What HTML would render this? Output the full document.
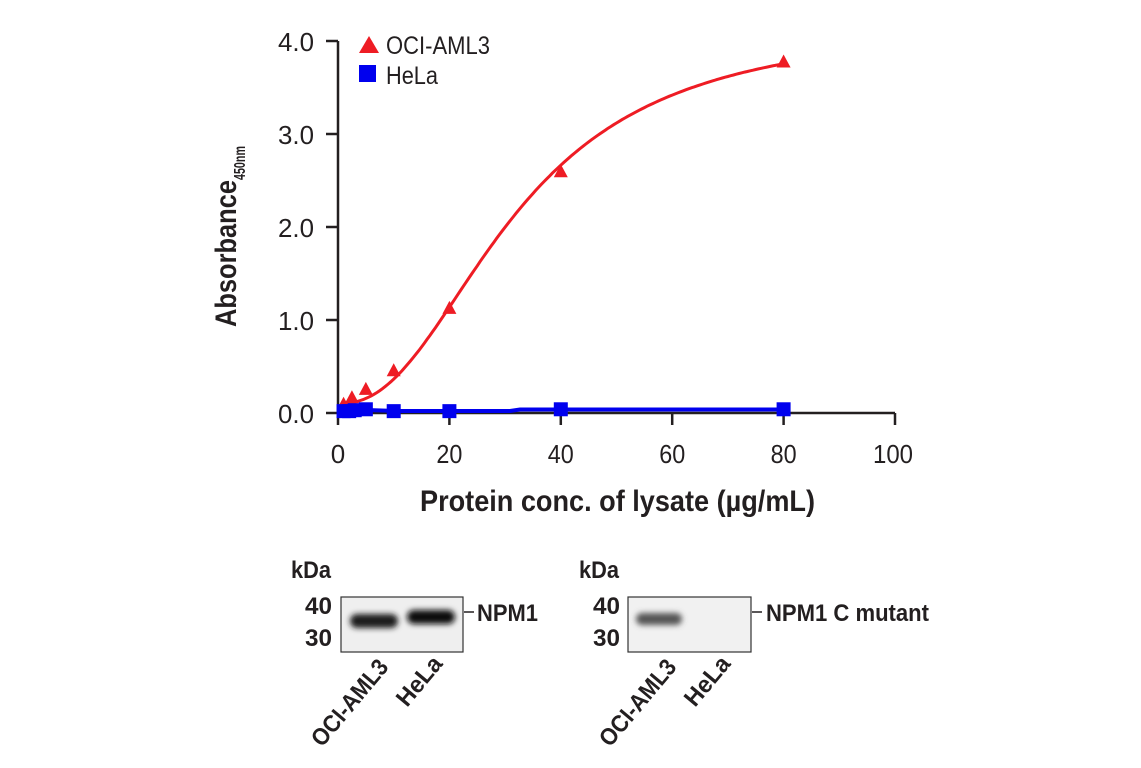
<!DOCTYPE html>
<html><head><meta charset="utf-8"><style>
html,body{margin:0;padding:0;background:#fff;width:1141px;height:768px;overflow:hidden}
svg{display:block}
text{font-family:"Liberation Sans Narrow","Liberation Sans",sans-serif;fill:#231f20}
</style></head><body>
<svg width="1141" height="768" viewBox="0 0 1141 768" xmlns="http://www.w3.org/2000/svg">
<defs>
<filter id="bl" x="-50%" y="-100%" width="200%" height="300%"><feGaussianBlur stdDeviation="3"/></filter>
</defs>
<g stroke="#231f20" stroke-width="2.5" fill="none">
<line x1="338" y1="41" x2="338" y2="413"/>
<line x1="338" y1="413" x2="895" y2="413"/>
<line x1="326" y1="41" x2="338" y2="41"/>
<line x1="326" y1="134" x2="338" y2="134"/>
<line x1="326" y1="227" x2="338" y2="227"/>
<line x1="326" y1="320" x2="338" y2="320"/>
<line x1="326" y1="413" x2="338" y2="413"/>
<line x1="338" y1="413" x2="338" y2="425"/>
<line x1="449.4" y1="413" x2="449.4" y2="425"/>
<line x1="560.8" y1="413" x2="560.8" y2="425"/>
<line x1="672.2" y1="413" x2="672.2" y2="425"/>
<line x1="783.6" y1="413" x2="783.6" y2="425"/>
<line x1="895" y1="413" x2="895" y2="425"/>
</g>
<g font-size="26" text-anchor="end">
<text x="314" y="51" textLength="36" lengthAdjust="spacingAndGlyphs">4.0</text><text x="314" y="144" textLength="36" lengthAdjust="spacingAndGlyphs">3.0</text><text x="314" y="237" textLength="36" lengthAdjust="spacingAndGlyphs">2.0</text><text x="314" y="330" textLength="36" lengthAdjust="spacingAndGlyphs">1.0</text><text x="314" y="423" textLength="36" lengthAdjust="spacingAndGlyphs">0.0</text>
</g>
<g font-size="26" text-anchor="middle">
<text x="338" y="463">0</text><text x="449.4" y="463" textLength="26" lengthAdjust="spacingAndGlyphs">20</text><text x="560.8" y="463" textLength="26" lengthAdjust="spacingAndGlyphs">40</text><text x="672.2" y="463" textLength="26" lengthAdjust="spacingAndGlyphs">60</text><text x="783.6" y="463" textLength="26" lengthAdjust="spacingAndGlyphs">80</text><text x="893" y="463" textLength="40" lengthAdjust="spacingAndGlyphs">100</text>
</g>
<text x="420" y="511" font-size="30" font-weight="bold" textLength="395" lengthAdjust="spacingAndGlyphs">Protein conc. of lysate (µg/mL)</text>
<text transform="translate(236,327) rotate(-90)" font-size="30" font-weight="bold"><tspan textLength="147" lengthAdjust="spacingAndGlyphs">Absorbance</tspan><tspan font-size="16" dy="9" textLength="34" lengthAdjust="spacingAndGlyphs">450nm</tspan></text>
<polygon points="359,53 369,36 379,53" fill="#ee1c24"/>
<text x="386" y="54" font-size="25" textLength="104" lengthAdjust="spacingAndGlyphs">OCI-AML3</text>
<rect x="359" y="65" width="17" height="17" fill="#0000ee"/>
<text x="386" y="84" font-size="25" textLength="52" lengthAdjust="spacingAndGlyphs">HeLa</text>
<path d="M343.6,411 L366,410 L400,411 L449.4,411 L510,411 L520,409.5 L560.8,409.5 L783.6,409.5" stroke="#0000ee" stroke-width="4" fill="none"/>
<path id="red" stroke="#ee1c24" stroke-width="3" fill="none"/>
<g id="pts"></g>
<rect x="341" y="597" width="122" height="55" fill="#efefef" stroke="#333" stroke-width="1.2"/>
<rect x="350" y="614" width="48" height="14" rx="7" fill="#1a1a1a" filter="url(#bl)"/>
<rect x="407" y="610" width="48" height="14" rx="7" fill="#111" filter="url(#bl)"/>
<rect x="628" y="597" width="123" height="55" fill="#f1f1f1" stroke="#333" stroke-width="1.2"/>
<rect x="636" y="613" width="46" height="12" rx="6" fill="#555" filter="url(#bl)"/>
<line x1="464" y1="612" x2="474" y2="612" stroke="#231f20" stroke-width="1.5"/>
<line x1="752" y1="612" x2="762" y2="612" stroke="#231f20" stroke-width="1.5"/>
<g font-size="24" font-weight="bold">
<text x="291" y="578" textLength="40" lengthAdjust="spacingAndGlyphs">kDa</text><text x="579" y="578" textLength="40" lengthAdjust="spacingAndGlyphs">kDa</text>
<text x="305" y="614" textLength="27" lengthAdjust="spacingAndGlyphs">40</text><text x="305" y="646" textLength="27" lengthAdjust="spacingAndGlyphs">30</text>
<text x="593" y="614" textLength="27" lengthAdjust="spacingAndGlyphs">40</text><text x="593" y="646" textLength="27" lengthAdjust="spacingAndGlyphs">30</text>
<text x="477" y="621" textLength="61" lengthAdjust="spacingAndGlyphs">NPM1</text><text x="766" y="621" textLength="163" lengthAdjust="spacingAndGlyphs">NPM1 C mutant</text>
<text transform="translate(322,748) rotate(-50)" textLength="105" lengthAdjust="spacingAndGlyphs">OCI-AML3</text>
<text transform="translate(407,708) rotate(-50)" textLength="57" lengthAdjust="spacingAndGlyphs">HeLa</text>
<text transform="translate(610,748) rotate(-50)" textLength="105" lengthAdjust="spacingAndGlyphs">OCI-AML3</text>
<text transform="translate(695,708) rotate(-50)" textLength="57" lengthAdjust="spacingAndGlyphs">HeLa</text>
</g>
</svg>
<script>
var X=function(v){return 338+v*5.57},Y=function(v){return 413-v*93};
var d="";for(var x=1;x<=80;x+=0.5){var y=0.1+4.1/(1+Math.pow(32/x,2.3));d+=(d?"L":"M")+X(x).toFixed(1)+","+Y(y).toFixed(1);}
document.getElementById("red").setAttribute("d",d);
var g=document.getElementById("pts"),s="";
[[1,0.1],[2.5,0.17],[5,0.26],[10,0.46],[20,1.13],[40,2.6],[80,3.78]].forEach(function(p){var cx=X(p[0]),cy=Y(p[1]);s+='<polygon fill="#ee1c24" points="'+(cx-7)+','+(cy+6)+' '+cx+','+(cy-7)+' '+(cx+7)+','+(cy+6)+'"/>';});
[[1,0.02],[2,0.02],[3,0.03],[5,0.04],[10,0.02],[20,0.02],[40,0.04],[80,0.04]].forEach(function(p){var cx=X(p[0]),cy=Y(p[1]);s+='<rect fill="#0000ee" x="'+(cx-7)+'" y="'+(cy-7)+'" width="14" height="14"/>';});
g.innerHTML=s;
</script>
</body></html>
